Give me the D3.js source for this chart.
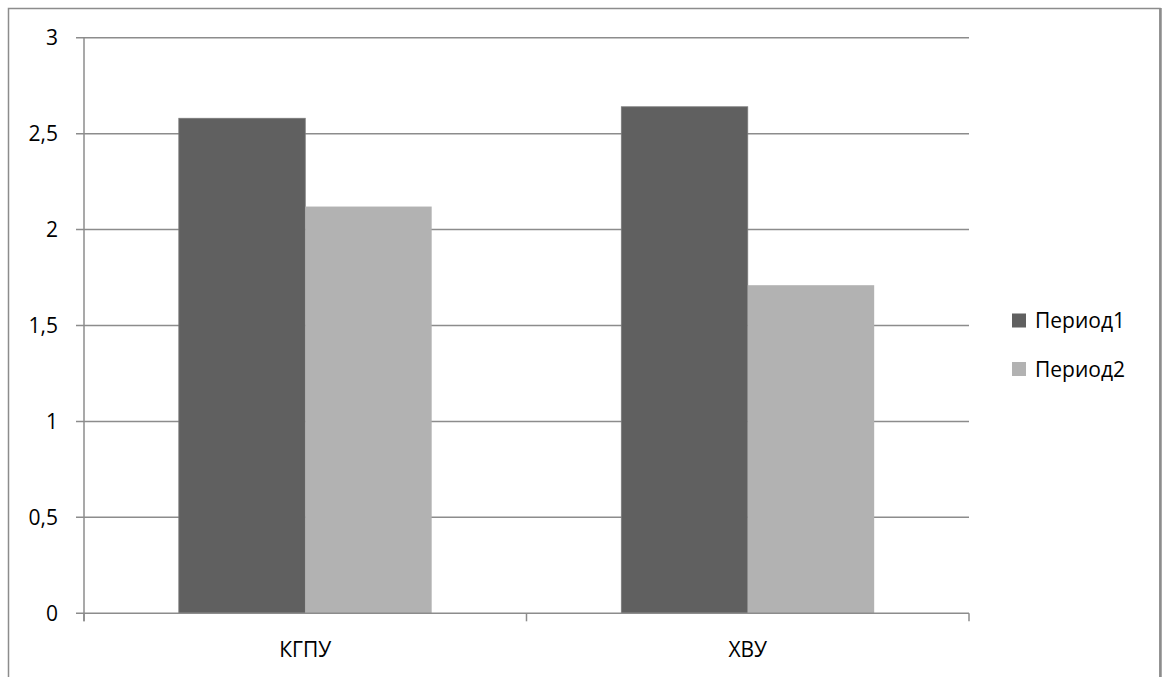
<!DOCTYPE html>
<html><head><meta charset="utf-8">
<script src="https://cdn.jsdelivr.net/npm/d3@7"></script>
<style>html,body{margin:0;padding:0;background:#fff;}svg{display:block;}</style>
</head><body>
<svg id="c" width="1169" height="677"></svg>
<script>
const categories = ["КГПУ", "ХВУ"];
const seriesNames = ["Период1", "Период2"];
const period1 = [2.58, 2.64];
const period2 = [2.12, 1.71];
const yTicks = [0, 0.5, 1, 1.5, 2, 2.5, 3];
const yTickLabels = ["0", "0,5", "1", "1,5", "2", "2,5", "3"];
const colors = ["#606060", "#b2b2b2"];

const svg = d3.select("#c");
const font = "'Open Sans', 'Liberation Sans', sans-serif";
const fs = 21;
const m = {left: 84, right: 969, top: 37.7, bottom: 613.3};

// outer border
svg.append("path").attr("d", "M8.5,677 L8.5,8.5 L1160,8.5 L1160,677")
  .attr("fill", "none").attr("stroke", "#8c8c8c").attr("stroke-width", 1.5);
svg.append("line").attr("x1", 1160.5).attr("x2", 1160.5).attr("y1", 8).attr("y2", 677)
  .attr("stroke", "#8c8c8c").attr("stroke-width", 2.5);

const x = d3.scaleBand().domain(categories).range([m.left, m.right]).paddingInner(0).paddingOuter(0);
const y = d3.scaleLinear().domain([0, 3]).range([m.bottom, m.top]);
const x1 = d3.scaleBand().domain(seriesNames).range([0, x.bandwidth()]).paddingInner(0).paddingOuter(0.75);

// gridlines
svg.append("g").selectAll("line").data(yTicks.filter(d => d > 0)).join("line")
  .attr("x1", m.left - 8).attr("x2", m.right)
  .attr("y1", d => y(d)).attr("y2", d => y(d))
  .attr("stroke", "#8c8c8c").attr("stroke-width", 1.5);

// bars
const data = categories.map((c, i) => ({c, vals: [period1[i], period2[i]]}));
const g = svg.append("g").selectAll("g").data(data).join("g")
  .attr("transform", d => `translate(${x(d.c)},0)`);
g.selectAll("rect").data(d => d.vals.map((v, j) => ({v, s: seriesNames[j], j}))).join("rect")
  .attr("x", d => x1(d.s)).attr("width", x1.bandwidth())
  .attr("y", d => y(d.v)).attr("height", d => y(0) - y(d.v))
  .attr("fill", d => colors[d.j])
  .attr("stroke", d => d.j === 0 ? "#7a7a7a" : "none").attr("stroke-width", 0.8);

// y axis
svg.append("line").attr("x1", m.left).attr("x2", m.left).attr("y1", m.top).attr("y2", m.bottom + 8)
  .attr("stroke", "#8c8c8c").attr("stroke-width", 1.5);
svg.append("line").attr("x1", m.left - 8).attr("x2", m.right).attr("y1", y(0)).attr("y2", y(0))
  .attr("stroke", "#8c8c8c").attr("stroke-width", 1.5);
svg.append("g").selectAll("text").data(yTicks).join("text")
  .attr("x", 58).attr("y", d => y(d)).attr("dy", "0.36em")
  .attr("text-anchor", "end").attr("font-family", font).attr("font-size", fs).attr("fill", "#000")
  .text((d, i) => yTickLabels[i]);

// x ticks
const bounds = [m.left, ...categories.map(c => x(c) + x.bandwidth())];
svg.append("g").selectAll("line").data(bounds).join("line")
  .attr("x1", d => d).attr("x2", d => d).attr("y1", y(0)).attr("y2", y(0) + 8)
  .attr("stroke", "#8c8c8c").attr("stroke-width", 1.5);
svg.append("g").selectAll("text").data(categories).join("text")
  .attr("x", d => x(d) + x.bandwidth() / 2).attr("y", 657)
  .attr("text-anchor", "middle").attr("font-family", font).attr("font-size", fs).attr("fill", "#000")
  .text(d => d);

// legend
const lg = svg.append("g").selectAll("g").data(seriesNames).join("g")
  .attr("transform", (d, i) => `translate(1012,${313.5 + i * 48.5})`);
lg.append("rect").attr("width", 14).attr("height", 14).attr("fill", (d, i) => colors[i]);
lg.append("text").attr("x", 23).attr("y", 14.5).attr("font-family", font).attr("font-size", fs)
  .attr("fill", "#000").text(d => d);
</script>
</body></html>
